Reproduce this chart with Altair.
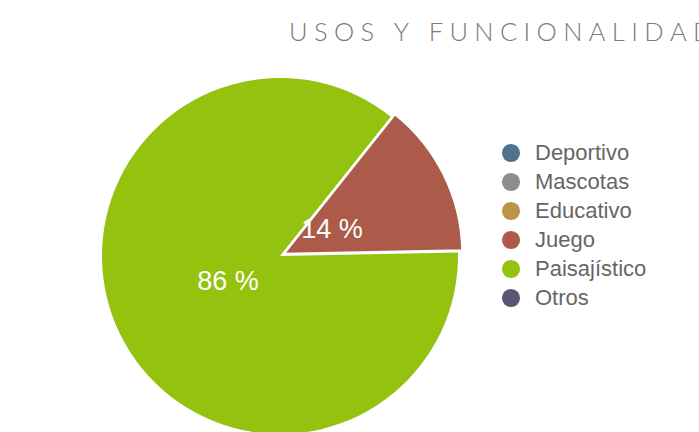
import altair as alt
import pandas as pd
import math

categories = ["Deportivo", "Mascotas", "Educativo", "Juego", "Paisajístico", "Otros"]
values = [0, 0, 0, 14, 86, 0]
colors = ["#52718f", "#8a8f8a", "#b99544", "#ac5b4b", "#93c20f", "#5d5476"]
title_text = "USOS Y FUNCIONALIDAD"

# thin spaces between the letters imitate the title's letter-spacing
spaced_title = "\u2009\u2009".join(list(title_text))

df = pd.DataFrame({
    "cat": categories,
    "val": values,
    "idx": list(range(len(categories))),
    "label": [f"{v} %" if v > 0 else "" for v in values],
})

start = math.radians(38.5)
theta_scale = alt.Scale(range=[start, start + 2 * math.pi])
color_scale = alt.Scale(domain=categories, range=colors)

CX, CY, R = 280, 256, 178

base = alt.Chart(df).encode(
    theta=alt.Theta("val:Q", stack=True, scale=theta_scale),
    order=alt.Order("idx:Q"),
    x=alt.value(CX),
    y=alt.value(CY),
)

pie = base.mark_arc(outerRadius=R).encode(
    color=alt.Color(
        "cat:N",
        scale=color_scale,
        sort=categories,
        legend=alt.Legend(
            title=None,
            orient="none",
            legendX=500,
            legendY=142,
            symbolType="circle",
            symbolSize=330,
            symbolStrokeWidth=0,
            labelFontSize=22,
            labelFont="Liberation Sans",
            labelColor="#666666",
            labelOffset=13,
            rowPadding=7,
            padding=0,
        ),
    ),
    opacity=alt.condition(alt.datum.cat == "Juego", alt.value(0), alt.value(1)),
)

juego = base.mark_arc(outerRadius=R + 1, xOffset=3.5, yOffset=-2, stroke="white", strokeWidth=2.5).encode(
    color=alt.Color("cat:N", scale=color_scale, sort=categories),
    opacity=alt.condition(alt.datum.cat == "Juego", alt.value(1), alt.value(0)),
)

labels = base.mark_text(radius=58, fontSize=27, font="Liberation Sans", color="white").encode(
    text="label:N",
)

title = alt.Chart(pd.DataFrame({"t": [spaced_title]})).mark_text(
    align="left", baseline="alphabetic", fontSize=25.5, font="Lato", fontWeight=300,
    color="#7a7a7a",
).encode(text="t:N", x=alt.value(289), y=alt.value(41))

chart = alt.layer(pie, juego, labels, title).properties(
    width=699, height=432, padding=0, autosize=alt.AutoSizeParams(type="none")
).configure_view(stroke=None)

chart.save("out.html", embed_options={"renderer": "svg", "actions": False})
